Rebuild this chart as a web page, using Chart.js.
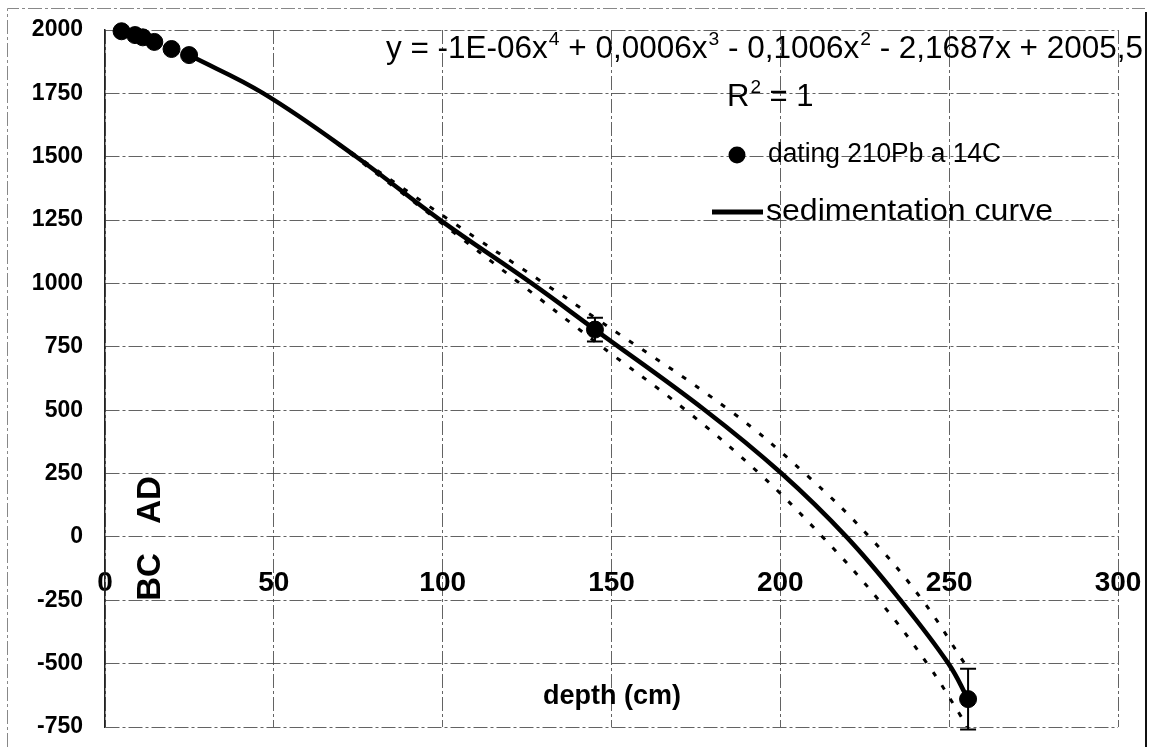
<!DOCTYPE html>
<html>
<head>
<meta charset="utf-8">
<script src="https://cdn.jsdelivr.net/npm/chart.js@4.4.1/dist/chart.umd.min.js"></script>
<style>
html,body{margin:0;padding:0;background:#fff;}
#wrap{width:1150px;height:747px;position:relative;}
</style>
</head>
<body>
<div id="wrap"><canvas id="c" width="1150" height="747"></canvas></div>
<script>
// ---- data ----
const datingDepth = [4.9, 8.9, 11.2, 14.6, 19.7, 24.9, 145.1, 255.6];
const datingAge   = [1995, 1980, 1971, 1953, 1925, 1901, 818, -640];
const datingErr   = [0, 0, 0, 0, 0, 0, 47, 120];

const curveDepth = [24.9, 46.9, 74.4, 99.3, 126.4, 145.1, 177.7, 200.4, 219.6, 235.6, 249.8, 255.6];
const curveAge   = [1901, 1750, 1500, 1250, 1000, 818, 500, 250, 0, -250, -500, -640];

const upperDepth = [65, 102, 130.1, 145.1, 184.9, 207.3, 226.4, 242.1, 254.6, 255.6];
const upperAge   = [1590, 1250, 1000, 865, 500, 250, 0, -250, -500, -520];

const lowerDepth = [65, 98.5, 122.9, 145.1, 172, 193.8, 212.5, 229.2, 243.5, 253.5, 255.6];
const lowerAge   = [1590, 1250, 1000, 771, 500, 250, 0, -250, -500, -708, -760];

const xTicks = [0, 50, 100, 150, 200, 250, 300];
const yTicks = [-750, -500, -250, 0, 250, 500, 750, 1000, 1250, 1500, 1750, 2000];

const legendLabels = ['dating 210Pb a 14C', 'sedimentation curve'];
const equationParts = [['y = -1E-06x', '4'], [' + 0,0006x', '3'], [' - 0,1006x', '2'], [' - 2,1687x + 2005,5', '']];
const r2Text = ['R', '2', ' = 1'];
const xTitle = 'depth (cm)';
const eraLabels = ['AD', 'BC'];

const pairs = (xs, ys) => xs.map((x, i) => ({x: x, y: ys[i]}));
const FONT = "'Liberation Sans', Arial, sans-serif";

function fitText(ctx, text, x, y, targetW) {
  const w = ctx.measureText(text).width;
  ctx.save();
  ctx.translate(x, y);
  ctx.scale(targetW / w, 1);
  ctx.fillText(text, 0, 0);
  ctx.restore();
}

const decor = {
  id: 'decor',
  beforeDraw(chart) {
    const ctx = chart.ctx;
    ctx.save();
    ctx.fillStyle = '#fff';
    ctx.fillRect(0, 0, chart.width, chart.height);
    ctx.strokeStyle = '#888';
    ctx.lineWidth = 1;
    ctx.setLineDash([14, 3, 3, 3]);
    ctx.beginPath();
    ctx.moveTo(7.5, 747); ctx.lineTo(7.5, 8.5); ctx.lineTo(1145, 8.5);
    ctx.stroke();
    ctx.setLineDash([]);
    ctx.strokeStyle = '#111';
    ctx.lineWidth = 2;
    ctx.beginPath();
    ctx.moveTo(1146, 12); ctx.lineTo(1146, 747);
    ctx.stroke();
    ctx.restore();
  },
  afterDatasetsDraw(chart) {
    const ctx = chart.ctx;
    const xs = chart.scales.x, ys = chart.scales.y;
    ctx.save();
    ctx.strokeStyle = '#000';
    ctx.lineWidth = 2;
    datingErr.forEach((e, i) => {
      if (!e) return;
      const px = xs.getPixelForValue(datingDepth[i]);
      const t = ys.getPixelForValue(datingAge[i] + e);
      const b = ys.getPixelForValue(datingAge[i] - e);
      ctx.beginPath();
      ctx.moveTo(px, t); ctx.lineTo(px, b);
      ctx.moveTo(px - 8, t); ctx.lineTo(px + 8, t);
      ctx.moveTo(px - 8, b); ctx.lineTo(px + 8, b);
      ctx.stroke();
    });
    ctx.restore();
  },
  afterDraw(chart) {
    const ctx = chart.ctx;
    ctx.save();
    ctx.fillStyle = '#000';
    ctx.textBaseline = 'alphabetic';
    ctx.textAlign = 'left';
    const big = '31px ' + FONT, sup = '19px ' + FONT;
    let total = 0;
    equationParts.forEach(p => {
      ctx.font = big; total += ctx.measureText(p[0]).width;
      if (p[1]) { ctx.font = sup; total += ctx.measureText(p[1]).width + 1; }
    });
    ctx.save();
    ctx.translate(386, 58);
    ctx.scale(757 / total, 1);
    let x = 0;
    equationParts.forEach(p => {
      ctx.font = big; ctx.fillText(p[0], x, 0); x += ctx.measureText(p[0]).width;
      if (p[1]) { ctx.font = sup; ctx.fillText(p[1], x + 1, -13); x += ctx.measureText(p[1]).width + 1; }
    });
    ctx.restore();
    x = 727;
    ctx.font = big; ctx.fillText(r2Text[0], x, 106); x += ctx.measureText(r2Text[0]).width;
    ctx.font = sup; ctx.fillText(r2Text[1], x + 1, 93); x += ctx.measureText(r2Text[1]).width + 1;
    ctx.font = big; ctx.fillText(r2Text[2], x, 106);
    // legend
    ctx.beginPath(); ctx.arc(737, 155, 8.5, 0, Math.PI * 2); ctx.fill();
    ctx.lineWidth = 5; ctx.strokeStyle = '#000';
    ctx.beginPath(); ctx.moveTo(712, 212); ctx.lineTo(763, 212); ctx.stroke();
    ctx.textBaseline = 'middle';
    ctx.font = '27px ' + FONT;
    fitText(ctx, legendLabels[0], 768, 155, 233);
    ctx.font = '29px ' + FONT;
    fitText(ctx, legendLabels[1], 766, 212, 287);
    // x title
    ctx.font = 'bold 27px ' + FONT;
    ctx.textAlign = 'center';
    ctx.fillText(xTitle, 612, 697);
    // AD / BC
    ctx.font = 'bold 33px ' + FONT;
    ctx.translate(151, 500); ctx.rotate(-Math.PI / 2);
    ctx.fillText(eraLabels[0], 0, 0);
    ctx.rotate(Math.PI / 2); ctx.translate(0, 77); ctx.rotate(-Math.PI / 2);
    ctx.fillText(eraLabels[1], 0, 0);
    ctx.restore();
  }
};

const gridColor = 'rgba(60,60,60,0.8)';

new Chart(document.getElementById('c'), {
  type: 'scatter',
  data: {
    datasets: [
      {
        label: legendLabels[0],
        data: pairs(datingDepth, datingAge),
        backgroundColor: '#000', borderColor: '#000',
        pointRadius: 8.5, pointHoverRadius: 8.5, showLine: false, clip: false
      },
      {
        label: legendLabels[1],
        data: pairs(curveDepth, curveAge),
        showLine: true, borderColor: '#000', borderWidth: 4.5,
        pointRadius: 0, tension: 0.4, fill: false
      },
      {
        label: 'upper',
        data: pairs(upperDepth, upperAge),
        showLine: true, borderColor: '#000', borderWidth: 3, borderDash: [5, 11],
        pointRadius: 0, tension: 0.4, fill: false
      },
      {
        label: 'lower',
        data: pairs(lowerDepth, lowerAge),
        showLine: true, borderColor: '#000', borderWidth: 3, borderDash: [5, 11],
        pointRadius: 0, tension: 0.4, fill: false
      }
    ]
  },
  options: {
    responsive: false,
    animation: false,
    devicePixelRatio: 1,
    layout: { padding: { left: 0, top: 30, right: 32, bottom: 20 } },
    plugins: { legend: { display: false }, tooltip: { enabled: false } },
    events: [],
    scales: {
      x: {
        type: 'linear',
        position: { y: 0 },
        min: 0, max: 300,
        afterBuildTicks: s => { s.ticks = xTicks.map(v => ({ value: v })); },
        afterFit: s => { s.height = 0; s.paddingLeft = 0; s.paddingRight = 0; s.paddingTop = 0; s.paddingBottom = 0; },
        ticks: { font: { family: FONT, size: 28, weight: 'bold' }, color: '#000', padding: 30, callback: v => String(v) },
        grid: { color: gridColor, lineWidth: 1, drawTicks: false },
        border: { display: false, dash: [14, 3, 3, 3] }
      },
      y: {
        type: 'linear',
        position: 'left',
        min: -750, max: 2000,
        afterBuildTicks: s => { s.ticks = yTicks.map(v => ({ value: v })); },
        afterFit: s => { s.width = 105; s.paddingLeft = 0; s.paddingRight = 0; s.paddingTop = 0; s.paddingBottom = 0; },
        ticks: { font: { family: FONT, size: 23, weight: 'bold' }, color: '#000', padding: 22, callback: v => String(v) },
        grid: { color: gridColor, lineWidth: 1, drawTicks: false },
        border: { display: true, color: '#222', width: 1.5, dash: [14, 3, 3, 3] }
      }
    }
  },
  plugins: [decor]
});
</script>
</body>
</html>
